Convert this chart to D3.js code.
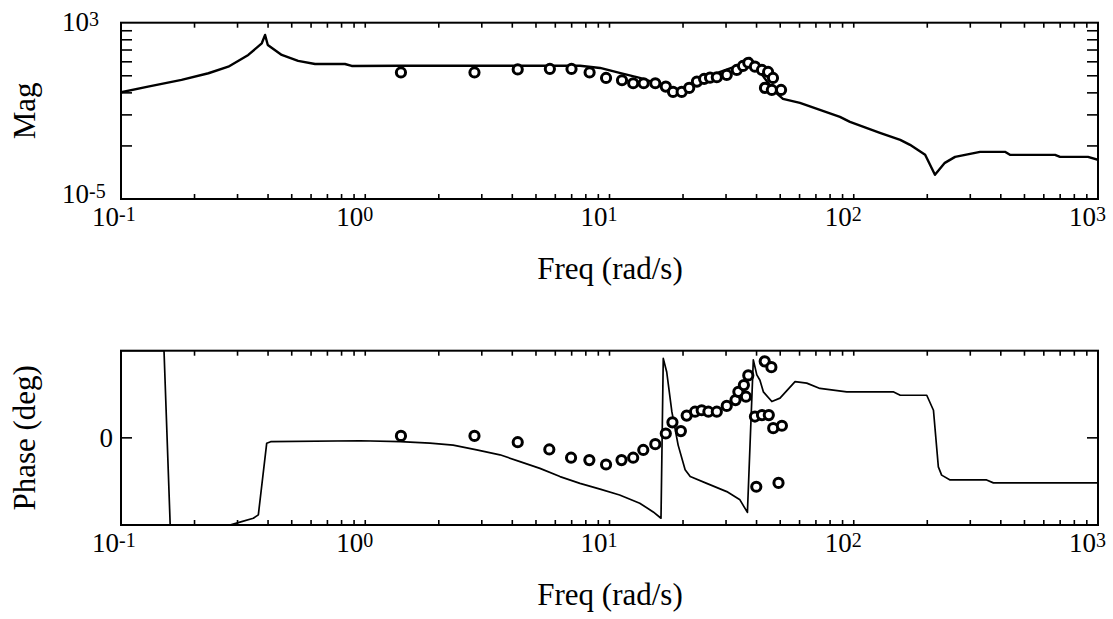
<!DOCTYPE html>
<html>
<head>
<meta charset="utf-8">
<script src="https://cdn.jsdelivr.net/npm/d3@7"></script>
<style>
  body { margin: 0; background: #fff; }
  text { font-family: "Liberation Serif", "DejaVu Serif", serif; fill: #000; }
</style>
</head>
<body>
<script>
// ---- data ----
// x axis decades (exponents of 10)
var xDecades = [-1, 0, 1, 2, 3];
var magDecades = [3, -5];

// magnitude model curve
var magLineFreq = [0.1, 0.129, 0.177, 0.228, 0.275, 0.332, 0.377, 0.389, 0.399, 0.455, 0.531, 0.623,
  0.826, 0.88, 1.39, 7.57, 9.15, 11.0, 13.3, 15.4, 17.4, 18.9, 21.4, 24.1, 28.4, 33.3, 35.9, 37.6,
  41.3, 47.6, 51.3, 60.2, 87.8, 96.5, 128, 155, 170, 196, 215, 236, 260, 329, 416, 436, 667, 699, 910, 1000];
var magLineVal = [0.70, 1.26, 2.53, 5.08, 10.1, 34.4, 116, 277, 97.5, 34.4, 18.4, 13.4,
  13.4, 10.9, 11.2, 11.2, 8.85, 5.25, 3.11, 1.85, 1.10, 0.72, 1.10, 2.53, 5.82, 10.9, 20.4, 25.1,
  5.82, 0.72, 0.348, 0.229, 0.0531, 0.0316, 0.01, 0.00482, 0.00286, 0.00101, 0.000125, 0.000437, 0.000817,
  0.00138, 0.00138, 0.00101, 0.00101, 0.000817, 0.000817, 0.000597];

// measured magnitude points
var magPtsFreq = [1.40, 2.80, 4.21, 5.70, 6.99, 8.29, 9.68, 11.25, 12.5, 13.8, 15.4, 17.0, 18.2, 19.75,
  21.2, 22.8, 24.4, 25.8, 27.5, 30.2, 33.2, 35.2, 37.0, 39.4, 42.1, 44.6, 46.7, 43.3, 46.2, 50.4];
var magPtsVal = [5.53, 5.53, 7.56, 7.96, 7.96, 5.53, 3.11, 2.45, 1.79, 1.79, 1.79, 1.26, 0.722, 0.722,
  1.10, 2.12, 2.80, 3.21, 3.35, 4.26, 7.18, 10.9, 15.2, 10.1, 7.18, 5.82, 3.11, 1.10, 0.889, 0.889];

// phase model curve (deg)
var phaseLineFreq = [0.1, 0.150, 0.159, 0.279, 0.312, 0.348, 0.365, 0.395, 0.410, 0.952, 1.39, 1.84, 2.29,
  2.86, 3.56, 4.30, 5.19, 6.27, 7.57, 9.15, 11.0, 13.3, 15.1, 16.25, 16.6, 17.15, 18.0, 19.1, 20.4, 21.4,
  25.0, 30.2, 34.2, 36.7, 38.8, 40.1, 41.3, 42.65, 46.2, 49.9, 57.5, 64.2, 72.7, 93.6, 145, 155, 199,
  212, 222, 229, 248, 350, 373, 1000];
var phaseLineVal = [180, 180, -180, -180, -173, -166, -159, -11, -8, -6, -8, -11, -15,
  -25, -35, -49, -63, -80, -94, -106, -118, -135, -153, -166, 164, 136, 54, -15, -66, -80,
  -94, -111, -128, -154, 161, 130, 119, 95, 75, 82, 116, 113, 102, 95, 95, 88, 88,
  57, -60, -77, -87, -87, -93, -93];

// measured phase points (deg)
var phasePtsFreq = [1.40, 2.80, 4.21, 5.67, 6.96, 8.27, 9.68, 11.2, 12.5, 13.75, 15.4, 17.0, 18.1, 19.6,
  20.7, 22.4, 23.85, 25.4, 27.5, 30.2, 32.8, 33.7, 35.5, 37.0, 36.2, 39.4, 42.1, 44.9, 46.8, 50.8,
  39.9, 49.2, 43.2, 46.0];
var phasePtsVal = [4, 4, -9, -24, -41, -46, -55, -46, -41, -25, -13, 9, 32, 14,
  46, 54, 57, 54, 54, 66, 78, 95, 109, 129, 85, 44, 47, 47, 20, 25,
  -101, -93, 158, 146];

// ---- layout ----
var W = 1113, H = 619;
var left = 121, right = 1098;
var magTop = 22.7, magBottom = 199;
var phTop = 350.7, phBottom = 525;

var svg = d3.select("body").append("svg")
  .attr("width", W)
  .attr("height", H);

var x = d3.scaleLog().domain([0.1, 1000]).range([left, right]);
var yMag = d3.scaleLog().domain([1e-5, 1e3]).range([magBottom, magTop]);
var yPh = d3.scaleLinear().domain([-180, 180]).range([phBottom, phTop]);

function zip(a, b) { return a.map(function(v, i) { return [v, b[i]]; }); }

function panel(top, bottom, y, lineFreq, lineVal, lineW, ptsFreq, ptsVal, id) {
  var g = svg.append("g");

  g.append("clipPath").attr("id", id)
    .append("rect")
    .attr("x", left).attr("y", top)
    .attr("width", right - left).attr("height", bottom - top);

  // x minor/major ticks on top and bottom edges, pointing in
  var xt = [];
  for (var e = -1; e < 3; e++) {
    for (var k = 1; k < 10; k++) xt.push(k * Math.pow(10, e));
  }
  xt.push(1000);
  g.selectAll(".xtb").data(xt).enter().append("line")
    .attr("x1", function(d) { return x(d); }).attr("x2", function(d) { return x(d); })
    .attr("y1", bottom).attr("y2", bottom - 5)
    .attr("stroke", "#000").attr("stroke-width", 1.6);
  g.selectAll(".xtt").data(xt).enter().append("line")
    .attr("x1", function(d) { return x(d); }).attr("x2", function(d) { return x(d); })
    .attr("y1", top).attr("y2", top + 5)
    .attr("stroke", "#000").attr("stroke-width", 1.6);

  // decade labels
  var lab = g.selectAll(".xl").data(xDecades).enter().append("text")
    .attr("x", function(d) { return x(Math.pow(10, d)) - 29; })
    .attr("y", bottom + 27)
    .style("font-size", "27px");
  lab.append("tspan").text("10");
  lab.append("tspan").attr("dy", -5).style("font-size", "20px").text(function(d) { return d; });

  // model curve
  var line = d3.line()
    .x(function(d) { return x(d[0]); })
    .y(function(d) { return y(d[1]); });
  g.append("path")
    .datum(zip(lineFreq, lineVal))
    .attr("clip-path", "url(#" + id + ")")
    .attr("fill", "none")
    .attr("stroke", "#000")
    .attr("stroke-width", lineW)
    .attr("stroke-linejoin", "round")
    .attr("d", line);

  // measured points
  g.selectAll(".pt").data(zip(ptsFreq, ptsVal)).enter().append("circle")
    .attr("cx", function(d) { return x(d[0]); })
    .attr("cy", function(d) { return y(d[1]); })
    .attr("r", 4.6)
    .attr("fill", "#fff")
    .attr("stroke", "#000")
    .attr("stroke-width", 3);

  // frame
  g.append("rect")
    .attr("x", left).attr("y", top)
    .attr("width", right - left).attr("height", bottom - top)
    .attr("fill", "none")
    .attr("stroke", "#000")
    .attr("stroke-width", 2);

  // x title
  g.append("text")
    .attr("x", 610).attr("y", bottom + 80)
    .attr("text-anchor", "middle")
    .style("font-size", "31px")
    .text("Freq (rad/s)");
  return g;
}

var gMag = panel(magTop, magBottom, yMag, magLineFreq, magLineVal, 2.4, magPtsFreq, magPtsVal, "clipMag");
var gPh = panel(phTop, phBottom, yPh, phaseLineFreq, phaseLineVal, 1.7, phasePtsFreq, phasePtsVal, "clipPh");

// magnitude y ticks: the original draws them like minor ticks of a single decade
var yMinor = d3.scaleLog().domain([1, 10]).range([magBottom, magTop]);
var yMinorTicks = [2, 3, 4, 5, 6, 7, 8, 9];
[[left, 11], [right, -11]].forEach(function(s) {
  gMag.selectAll(null).data(yMinorTicks).enter().append("line")
    .attr("x1", s[0]).attr("x2", s[0] + s[1])
    .attr("y1", function(d) { return yMinor(d); })
    .attr("y2", function(d) { return yMinor(d); })
    .attr("stroke", "#000").attr("stroke-width", 1.6);
});

var ml = gMag.selectAll(".yl").data(magDecades).enter().append("text")
  .attr("x", 62)
  .attr("y", function(d) { return yMag(Math.pow(10, d)) + (d < 0 ? 4 : 8); })
  .style("font-size", "27px");
ml.append("tspan").text("10");
ml.append("tspan").attr("dy", -5).style("font-size", "20px").text(function(d) { return d; });

gMag.append("text")
  .attr("transform", "translate(35," + ((magTop + magBottom) / 2) + ") rotate(-90)")
  .attr("text-anchor", "middle")
  .style("font-size", "31px")
  .text("Mag");

// phase y tick at 0
[[left, 11], [right, -11]].forEach(function(s) {
  gPh.append("line")
    .attr("x1", s[0]).attr("x2", s[0] + s[1])
    .attr("y1", yPh(0)).attr("y2", yPh(0))
    .attr("stroke", "#000").attr("stroke-width", 1.6);
});
gPh.append("text")
  .attr("x", 113).attr("y", yPh(0) + 9)
  .attr("text-anchor", "end")
  .style("font-size", "27px")
  .text("0");

gPh.append("text")
  .attr("transform", "translate(35," + ((phTop + phBottom) / 2) + ") rotate(-90)")
  .attr("text-anchor", "middle")
  .style("font-size", "31px")
  .text("Phase (deg)");
</script>
</body>
</html>
